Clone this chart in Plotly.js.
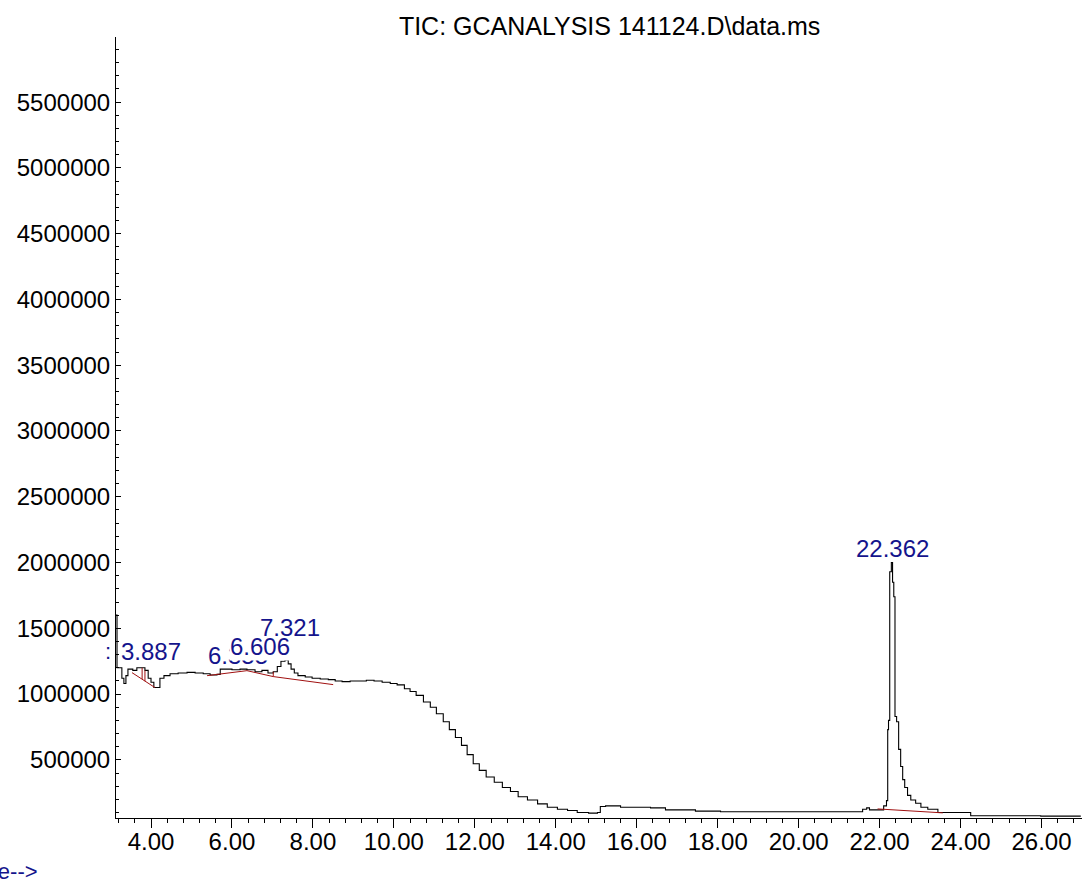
<!DOCTYPE html>
<html>
<head>
<meta charset="utf-8">
<script src="https://cdn.plot.ly/plotly-3.0.1.min.js"></script>
<style>
html,body{margin:0;padding:0;background:#fff;}
#chart{width:1082px;height:882px;}
</style>
</head>
<body>
<div id="chart"></div>
<script>
// Retention time (min) and TIC abundance
const timeMin = [
  3.135, 3.16, 3.23, 3.28, 3.33, 3.38, 3.43, 3.55, 3.65, 3.78, 3.85, 3.93, 4.00, 4.07, 4.15, 4.22,
  4.32, 4.47, 4.67, 4.89, 5.09, 5.29, 5.46, 5.63, 5.71, 5.83, 6.00, 6.20, 6.37, 6.57, 6.74, 6.89,
  7.02, 7.12, 7.21, 7.31, 7.39, 7.46, 7.54, 7.63, 7.81, 7.98, 8.18, 8.38, 8.55, 8.72, 8.92, 9.12,
  9.32, 9.51, 9.71, 9.91, 10.08, 10.26, 10.40, 10.55, 10.73, 10.90, 11.05, 11.22, 11.37, 11.52,
  11.67, 11.81, 11.96, 12.11, 12.28, 12.48, 12.68, 12.88, 13.07, 13.30, 13.55, 13.79, 14.04, 14.29,
  14.53, 14.81, 15.03, 15.10, 15.23, 15.40, 15.60, 15.97, 16.34, 16.71, 17.08, 17.45, 18.07, 19.06,
  20.05, 21.04, 21.48, 21.58, 21.68, 21.75, 22.03, 22.10, 22.17, 22.20, 22.22, 22.25, 22.29, 22.32,
  22.35, 22.38, 22.42, 22.47, 22.52, 22.57, 22.62, 22.69, 22.77, 22.89, 23.02, 23.19, 23.44, 23.83,
  24.25, 24.99, 25.98, 26.97
];
const abundance = [
  1600000, 1200000, 1200000, 1120000, 1080000, 1140000, 1190000, 1180000, 1200000, 1200000, 1180000, 1120000, 1090000, 1050000, 1050000, 1120000,
  1140000, 1155000, 1160000, 1165000, 1160000, 1155000, 1145000, 1150000, 1190000, 1190000, 1185000, 1190000, 1185000, 1170000, 1180000, 1160000,
  1170000, 1210000, 1250000, 1260000, 1230000, 1190000, 1160000, 1140000, 1130000, 1120000, 1115000, 1110000, 1100000, 1095000, 1100000, 1100000,
  1105000, 1100000, 1090000, 1080000, 1070000, 1040000, 1020000, 990000, 940000, 900000, 850000, 790000, 730000, 670000,
  610000, 540000, 470000, 420000, 370000, 330000, 290000, 260000, 220000, 195000, 165000, 140000, 125000, 115000,
  100000, 95000, 100000, 145000, 150000, 150000, 140000, 140000, 135000, 120000, 120000, 110000, 105000, 105000,
  105000, 105000, 105000, 125000, 135000, 120000, 120000, 150000, 190000, 730000, 800000, 1930000, 2000000, 1850000,
  1740000, 830000, 790000, 580000, 450000, 350000, 290000, 230000, 195000, 170000, 140000, 125000, 100000, 100000,
  75000, 75000, 72000, 72000
];

// Integration baselines (red)
const baseA_t = [3.53, 4.10];
const baseA_v = [1163000, 1049000];
const dropA1_t = [3.78, 3.78];
const dropA1_v = [1200000, 1114000];
const dropA2_t = [3.85, 3.85];
const dropA2_v = [1180000, 1098000];
const baseB_t = [5.385, 6.37, 7.02, 8.50];
const baseB_v = [1140000, 1178000, 1133000, 1072000];
const dropB_t = [7.02, 7.02];
const dropB_v = [1170000, 1133000];
const baseC_t = [21.95, 23.56];
const baseC_v = [127000, 97000];

// Peak labels
const peakLabels = ["3.887", "6.355", "6.606", "7.321", "22.362"];
const peakLabelT = [4.01, 6.151, 6.695, 7.437, 22.32];
const peakLabelV = [1323000, 1293000, 1361000, 1506000, 2108000];

const titleText = "TIC: GCANALYSIS 141124.D\\data.ms";
const FONT = "Liberation Sans, Arial, sans-serif";
const NAVY = "#14148c";
const RED = "#a01010";

const traces = [
  {x: timeMin, y: abundance, type: "scatter", mode: "lines", line: {color: "#000", width: 1.1, shape: "hv"}, hoverinfo: "skip"}
];
[[baseA_t, baseA_v], [dropA1_t, dropA1_v], [dropA2_t, dropA2_v], [baseB_t, baseB_v], [dropB_t, dropB_v], [baseC_t, baseC_v]].forEach(function (p) {
  traces.push({x: p[0], y: p[1], type: "scatter", mode: "lines", line: {color: RED, width: 1}, hoverinfo: "skip"});
});

const annotations = peakLabels.map(function (txt, i) {
  return {
    x: peakLabelT[i], y: peakLabelV[i], xref: "x", yref: "y", text: txt, showarrow: false,
    xanchor: "center", yanchor: "middle",
    font: {family: FONT, size: 24, color: NAVY},
    bgcolor: txt === "6.606" ? "#ffffff" : "rgba(0,0,0,0)", borderpad: 0
  };
});
annotations.push({x: -0.0083, y: 0.213, xref: "paper", yref: "paper", text: ":", showarrow: false,
  xanchor: "center", yanchor: "middle", font: {family: FONT, size: 22, color: NAVY}});
annotations.push({x: -0.0787, y: -0.069, xref: "paper", yref: "paper", text: "Time-->", showarrow: false,
  xanchor: "right", yanchor: "middle", font: {family: FONT, size: 22, color: NAVY}});

const layout = {
  width: 1082, height: 882,
  margin: {l: 116, r: 0, t: 37, b: 64, pad: 0},
  paper_bgcolor: "#fff", plot_bgcolor: "#fff",
  showlegend: false,
  font: {family: FONT, color: "#000", size: 24},
  title: {text: titleText, font: {family: FONT, size: 25, color: "#000"},
    x: 0.511, xref: "paper", xanchor: "center", y: 1 - 26 / 882, yref: "container", yanchor: "middle"},
  xaxis: {
    range: [3.135, 27.0], showgrid: false, zeroline: false,
    showline: true, linecolor: "#000", linewidth: 1,
    tick0: 0, dtick: 2, tickformat: ".2f", ticks: "outside", ticklen: 9, tickcolor: "#000", tickwidth: 1,
    ticklabelstandoff: -7,
    minor: {dtick: 0.4, tick0: 0, ticks: "outside", ticklen: 4, tickcolor: "#000", tickwidth: 1},
    tickfont: {family: FONT, size: 24, color: "#000"}
  },
  yaxis: {
    range: [58000, 5995000], showgrid: false, zeroline: false,
    showline: true, linecolor: "#000", linewidth: 1,
    tick0: 0, dtick: 500000, tickformat: "d", ticks: "inside", ticklen: 5, tickcolor: "#000", tickwidth: 1,
    minor: {dtick: 100000, tick0: 0, ticks: "inside", ticklen: 3, tickcolor: "#000", tickwidth: 1},
    tickfont: {family: FONT, size: 24, color: "#000"}
  },
  annotations: annotations
};

Plotly.newPlot("chart", traces, layout, {displayModeBar: false, staticPlot: true});
</script>
</body>
</html>
